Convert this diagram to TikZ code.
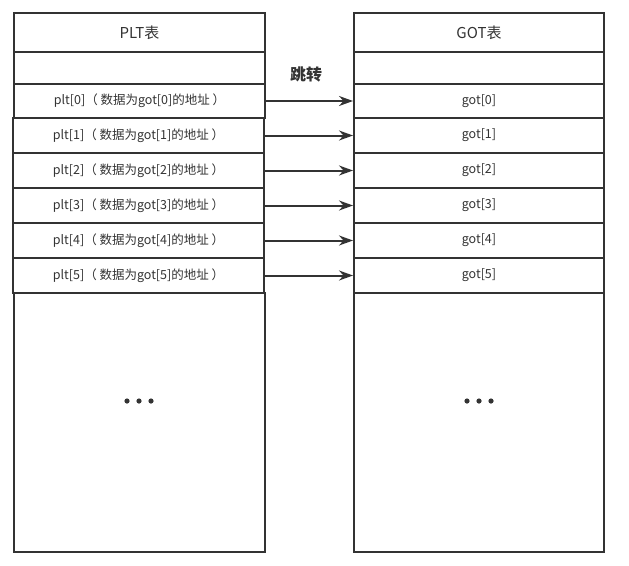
\documentclass[tikz,border=0pt]{standalone}
\usepackage{fontspec}
\setmainfont{Noto Sans CJK SC}
\usetikzlibrary{
    arrows.meta,
    positioning
}
\tikzset{
    % Colors
    table color/.style={black!80},
    %
    % Table cells
    cell/.style={draw=black!80, line width=2pt, text=black!80, inner sep=0pt,
        minimum width=251pt, minimum height=35pt, font=\fontsize{12.5}{14}\selectfont},
    head cell/.style={cell, minimum height=39pt, font=\fontsize{15}{17}\selectfont},
    %
    % Arrows
    arrow tip/.tip={Stealth[length=14pt,width=10pt]},
    arr/.style={->,>={arrow tip},table color,line width=2pt}
}

\begin{document}
\begin{tikzpicture}[x=1pt,y=-1pt]
    \useasboundingbox (0,0) rectangle (629,565);
    % PLT table
    \node[head cell] (plthead) at (139.5,32.5) {PLT表};
    \node[cell, minimum height=32.5pt] (pltgap) at (139.5,68) {};
    \node[cell, minimum height=34pt] (plt0) at (139.5,101) {plt[0]（ 数据为got[0]的地址 ）};
    \foreach \i in {1,...,5}
        \node[cell] (plt\i) at (138.5,100.5+35*\i) {plt[\i]（ 数据为got[\i]的地址 ）};
    \node[cell, minimum height=259pt] (pltrest) at (139.5,422.5) {};
    % GOT table
    \node[head cell, minimum width=250pt] (gothead) at (479,32.5) {GOT表};
    \node[cell, minimum width=250pt, minimum height=32.5pt] (gotgap) at (479,68) {};
    \node[cell, minimum width=250pt, minimum height=34pt] (got0) at (479,101) {got[0]};
    \foreach \i in {1,...,5}
        \node[cell, minimum width=250pt] (got\i) at (479,100.5+35*\i) {got[\i]};
    \node[cell, minimum width=250pt, minimum height=259pt] (gotrest) at (479,422.5) {};
    % dots
    \foreach \x in {127,139,151,467,479,491}
        \fill[table color] (\x,401) circle (2.6pt);
    % jumps
    \node[table color, font=\fontsize{16}{18}\selectfont\bfseries] (jump) at (306,74) {跳转};
    \foreach \i in {0,...,5}
        \draw[arr] (plt\i.east) -- (got\i.west);
\end{tikzpicture}
\end{document}
